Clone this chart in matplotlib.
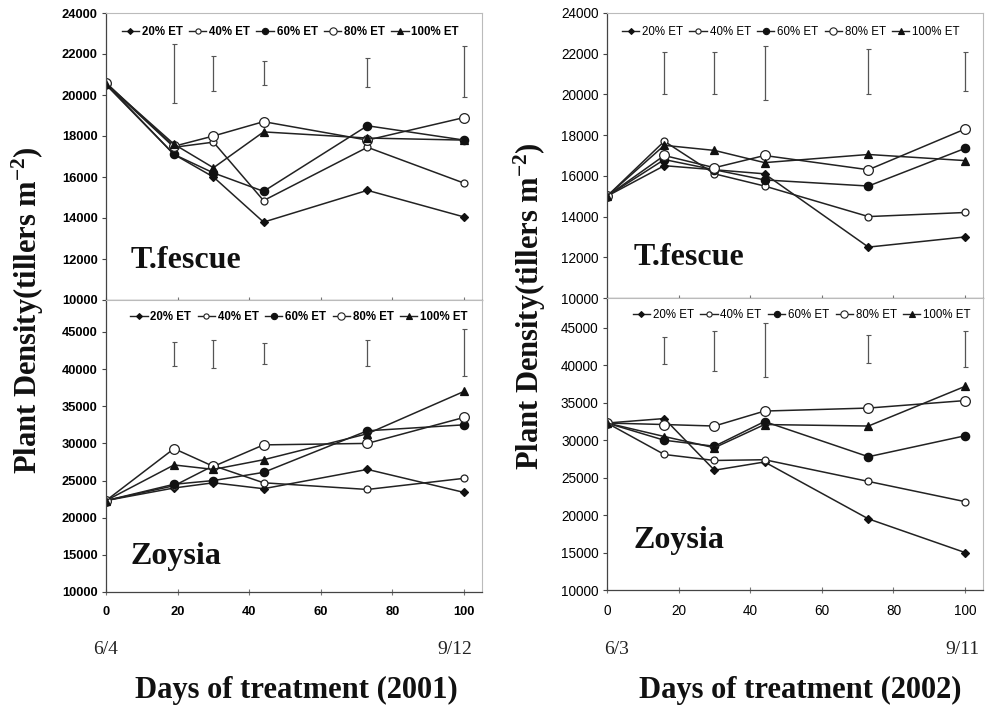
import matplotlib
matplotlib.use("Agg")
import matplotlib.pyplot as plt
from matplotlib.lines import Line2D

plt.rcParams['mathtext.fontset'] = 'custom'
plt.rcParams['mathtext.rm'] = 'Liberation Serif'
plt.rcParams['mathtext.bf'] = 'Liberation Serif:bold'
plt.rcParams['mathtext.it'] = 'Liberation Serif:italic'

# ---------------- data ----------------
treatments = ['20% ET', '40% ET', '60% ET', '80% ET', '100% ET']
days_2001 = [0, 19, 30, 44, 73, 100]
days_2002 = [0, 16, 30, 44, 73, 100]

# Tall fescue 2001 (20, 40, 60, 80, 100 % ET)
fescue_2001 = [
    [20500, 17100, 16000, 13800, 15350, 14050],
    [20550, 17450, 17700, 14850, 17450, 15700],
    [20550, 17100, 16200, 15300, 18500, 17800],
    [20600, 17500, 18000, 18700, 17800, 18900],
    [20550, 17600, 16450, 18200, 17900, 17800],
]
# Zoysia 2001
zoysia_2001 = [
    [22300, 24000, 24700, 23900, 26500, 23400],
    [22300, 24300, 27000, 24700, 23800, 25300],
    [22300, 24500, 25000, 26100, 31700, 32500],
    [22300, 29300, 26900, 29800, 30000, 33500],
    [22300, 27100, 26500, 27800, 31300, 37000],
]
# Tall fescue 2002
fescue_2002 = [
    [15000, 16500, 16300, 16100, 12500, 13000],
    [15000, 17700, 16100, 15500, 14000, 14200],
    [15000, 16800, 16300, 15800, 15500, 17350],
    [15000, 17000, 16400, 17000, 16300, 18300],
    [15000, 17500, 17250, 16650, 17050, 16750],
]
# Zoysia 2002
zoysia_2002 = [
    [32300, 32900, 26000, 27100, 19500, 15000],
    [32300, 28100, 27300, 27400, 24500, 21800],
    [32300, 30000, 29200, 32500, 27800, 30600],
    [32300, 32100, 31900, 33900, 34300, 35300],
    [32300, 30500, 29000, 32100, 31900, 37200],
]

# LSD bars (low, high) at days 1..5
lsd_fescue_2001_low = [19600, 20200, 20500, 20400, 19900]
lsd_fescue_2001_high = [22500, 21900, 21650, 21800, 22400]
lsd_zoysia_2001_low = [40400, 40200, 40650, 40450, 39100]
lsd_zoysia_2001_high = [43650, 43900, 43550, 43900, 45350]
lsd_fescue_2002_low = [20000, 20000, 19750, 20000, 20150]
lsd_fescue_2002_high = [22100, 22100, 22400, 22250, 22100]
lsd_zoysia_2002_low = [40250, 39300, 38400, 40300, 39750]
lsd_zoysia_2002_high = [43750, 44650, 45650, 44000, 44650]

# ---------------- style ----------------
styles = [
    dict(marker='D', ms=4, mfc='#111111', mec='#111111'),
    dict(marker='o', ms=5, mfc='white', mec='#222222'),
    dict(marker='o', ms=6, mfc='#111111', mec='#111111'),
    dict(marker='o', ms=7, mfc='white', mec='#222222'),
    dict(marker='^', ms=6, mfc='#111111', mec='#111111'),
]
LINE = '#222222'
SANS = 'Liberation Sans'
SERIF = 'Liberation Serif'

W, H = 986, 712
fig = plt.figure(figsize=(W / 100, H / 100), dpi=100)


def ax_rect(x0, y_top, x1, y_bot):
    return [x0 / W, 1 - y_bot / H, (x1 - x0) / W, (y_bot - y_top) / H]


def panel(rect, days, data, lo, hi, ylim, yticks, bold, label, label_xy,
          leg_xy, show_xlabels):
    ax = fig.add_axes(rect)
    for vals, st, name in zip(data, styles, treatments):
        ax.plot(days, vals, color=LINE, lw=1.1, mew=0.9, label=name, **st)
    mids = [(a + b) / 2 for a, b in zip(lo, hi)]
    half = [(b - a) / 2 for a, b in zip(lo, hi)]
    ax.errorbar(days[1:], mids, yerr=half, fmt='none', ecolor='#555555',
                elinewidth=0.9, capsize=1.8, capthick=0.8)
    ax.set_xlim(0, 105)
    ax.set_ylim(*ylim)
    ax.set_yticks(yticks)
    ax.set_xticks([0, 20, 40, 60, 80, 100])
    fw = 'bold' if bold else 'normal'
    fs = 9.3 if bold else 9.8
    ax.set_yticklabels([str(v) for v in yticks], fontfamily=SANS,
                       fontweight=fw, fontsize=fs)
    if show_xlabels:
        ax.set_xticklabels([str(v) for v in [0, 20, 40, 60, 80, 100]],
                           fontfamily=SANS, fontweight=fw, fontsize=fs)
    else:
        ax.set_xticklabels([])
    ax.tick_params(axis='y', direction='out', length=3, width=0.8,
                   color='#444444', pad=3)
    ax.tick_params(axis='x', direction='inout', length=4, width=0.8,
                   color='#777777', pad=8)
    for s in ['left', 'bottom']:
        ax.spines[s].set_color('#444444')
        ax.spines[s].set_linewidth(0.9)
    for s in ['top', 'right']:
        ax.spines[s].set_color('#bbbbbb')
        ax.spines[s].set_linewidth(0.8)
    ax.text(label_xy[0], label_xy[1], label, transform=ax.transAxes,
            fontfamily=SERIF, fontweight='bold', fontsize=23,
            ha='left', va='baseline', color='#111111')
    handles = [Line2D([0], [0], color=LINE, lw=1.0, mew=0.8,
                      **dict(st, ms=st['ms'] * 0.75)) for st in styles]
    ax.legend(handles, treatments, loc='center', bbox_to_anchor=leg_xy,
              ncol=5, frameon=False, handlelength=1.5, handletextpad=0.25,
              columnspacing=0.55, borderaxespad=0,
              prop=dict(family=SANS, weight=fw, size=8.3))
    return ax


top_ticks = list(range(10000, 24001, 2000))
bot_ticks = list(range(10000, 45001, 5000))

panel(ax_rect(106, 13, 482, 300), days_2001, fescue_2001,
      lsd_fescue_2001_low, lsd_fescue_2001_high, (10000, 24000), top_ticks,
      True, 'T.fescue', (0.065, 0.11), (0.49, 0.934), False)
panel(ax_rect(106, 300, 482, 592), days_2001, zoysia_2001,
      lsd_zoysia_2001_low, lsd_zoysia_2001_high, (10000, 49300), bot_ticks,
      True, 'Zoysia', (0.065, 0.095), (0.513, 0.943), True)
panel(ax_rect(607, 13, 983, 298), days_2002, fescue_2002,
      lsd_fescue_2002_low, lsd_fescue_2002_high, (10000, 24000), top_ticks,
      False, 'T.fescue', (0.07, 0.115), (0.489, 0.933), False)
panel(ax_rect(607, 298, 983, 590), days_2002, zoysia_2002,
      lsd_zoysia_2002_low, lsd_zoysia_2002_high, (10000, 49000), bot_ticks,
      False, 'Zoysia', (0.07, 0.145), (0.518, 0.942), True)

ylab = 'Plant Density(tillers m$^{\\mathbf{-2}}$)'
for xc, yc in ((28, 310), (530, 306)):
    fig.text(xc / W, 1 - yc / H, ylab, rotation=90, ha='center',
             va='center', fontfamily=SERIF, fontweight='bold', fontsize=22,
             color='#111111')

for xc, txt in ((296, 'Days of treatment (2001)'),
                (800, 'Days of treatment (2002)')):
    fig.text(xc / W, 1 - 690 / H, txt, ha='center', va='center',
             fontfamily=SERIF, fontweight='bold', fontsize=22,
             color='#111111')

for x, txt, ha in ((93, '6/4', 'left'), (472, '9/12', 'right'),
                   (604, '6/3', 'left'), (980, '9/11', 'right')):
    fig.text(x / W, 1 - 650 / H, txt, ha=ha, va='center',
             fontfamily=SERIF, fontsize=14, color='#222222')

fig.savefig('out.png', dpi=100, facecolor='white')
